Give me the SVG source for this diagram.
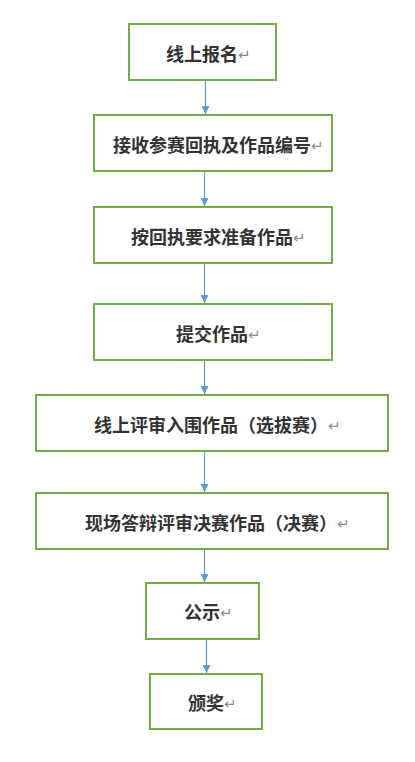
<svg xmlns="http://www.w3.org/2000/svg" width="415" height="762" viewBox="0 0 415 762">
<style>
.box{fill:#fff;stroke:#70AD47;stroke-width:2}
.t{font-family:"Noto Sans CJK SC","Noto Sans",sans-serif;font-size:18px;font-weight:bold;fill:#333}
.r{font-family:"Noto Sans CJK SC","DejaVu Sans",sans-serif;font-size:15px;font-weight:normal;fill:#8c8c8c}
.c{stroke:#5B9BD5;stroke-width:1.2;fill:none}
</style>
<defs>
<marker id="ah" viewBox="0 0 10 10" refX="10" refY="5" markerWidth="8" markerHeight="8" markerUnits="userSpaceOnUse" orient="auto">
<path d="M0,0 L10,5 L0,10 z" fill="#5B9BD5"/>
</marker>
</defs>
<rect width="415" height="762" fill="#fff"/>
<g id="connectors">
<line class="c" x1="205.5" y1="81" x2="205.5" y2="114" marker-end="url(#ah)"/>
<line class="c" x1="204.5" y1="172" x2="204.5" y2="206" marker-end="url(#ah)"/>
<line class="c" x1="204.5" y1="264" x2="204.5" y2="303" marker-end="url(#ah)"/>
<line class="c" x1="204.5" y1="361" x2="204.5" y2="394" marker-end="url(#ah)"/>
<line class="c" x1="204.5" y1="452" x2="204.5" y2="492" marker-end="url(#ah)"/>
<line class="c" x1="204.5" y1="550" x2="204.5" y2="582" marker-end="url(#ah)"/>
<line class="c" x1="206.5" y1="640" x2="206.5" y2="673" marker-end="url(#ah)"/>
</g>
<g id="n1"><rect class="box" x="129" y="24" width="147" height="56"/><text class="t" x="166" y="61">线上报名<tspan class="r" dy="-1">↵</tspan></text></g>
<g id="n2"><rect class="box" x="94" y="115" width="238" height="56"/><text class="t" x="113" y="152">接收参赛回执及作品编号<tspan class="r" dy="-1">↵</tspan></text></g>
<g id="n3"><rect class="box" x="94" y="207" width="238" height="56"/><text class="t" x="131" y="244">按回执要求准备作品<tspan class="r" dy="-1">↵</tspan></text></g>
<g id="n4"><rect class="box" x="94" y="304" width="238" height="56"/><text class="t" x="176" y="341">提交作品<tspan class="r" dy="-1">↵</tspan></text></g>
<g id="n5"><rect class="box" x="36" y="395" width="352" height="56"/><text class="t" x="94" y="432">线上评审入围作品（选拔赛）<tspan class="r" dy="-1">↵</tspan></text></g>
<g id="n6"><rect class="box" x="36" y="493" width="352" height="56"/><text class="t" x="85" y="530">现场答辩评审决赛作品（决赛）<tspan class="r" dy="-1">↵</tspan></text></g>
<g id="n7"><rect class="box" x="146" y="583" width="113" height="56"/><text class="t" x="184" y="619">公示<tspan class="r" dy="-1">↵</tspan></text></g>
<g id="n8"><rect class="box" x="150" y="674" width="112" height="55"/><text class="t" x="188" y="710">颁奖<tspan class="r" dy="-1">↵</tspan></text></g>
</svg>
